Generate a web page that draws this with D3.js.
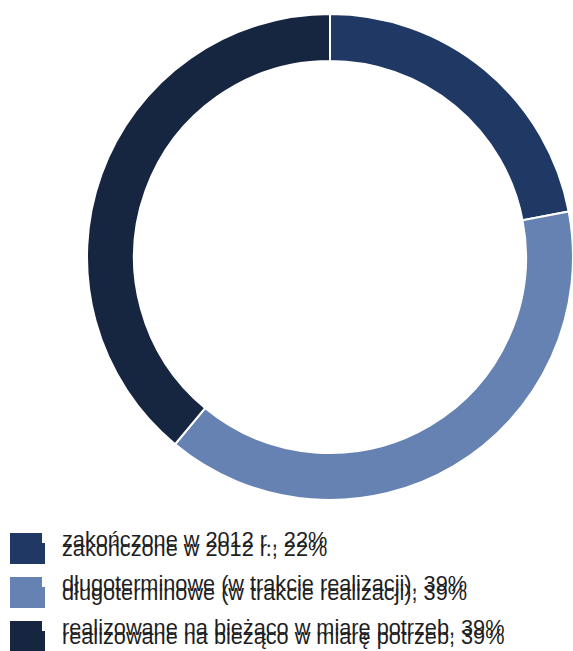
<!DOCTYPE html>
<html><head><meta charset="utf-8">
<script src="https://cdn.jsdelivr.net/npm/d3@7"></script>
<style>body{margin:0;background:#fff}svg{display:block}</style>
</head><body>
<script>
const categories = ["zakończone w 2012 r.", "długoterminowe (w trakcie realizacji)", "realizowane na bieżąco w miarę potrzeb"];
const values = [22, 39, 39];
const colors = ["#1f3864", "#6682b2", "#162540"];

const W = 573, H = 651;
const svg = d3.select("body").append("svg").attr("width", W).attr("height", H);
const cx = 330, cy = 257, rOuter = 243, rInner = 196;

const pie = d3.pie().sort(null).value(d => d)(values);
const arc = d3.arc().innerRadius(rInner).outerRadius(rOuter);
svg.append("g").attr("transform", `translate(${cx},${cy})`)
  .selectAll("path").data(pie).join("path")
  .attr("d", arc).attr("fill", (d, i) => colors[i])
  .attr("stroke", "#fff").attr("stroke-width", 2);

const leg = svg.append("g");
const y0 = 533, step = 44;
categories.forEach((c, i) => {
  const g = leg.append("g").attr("transform", `translate(0,${y0 + i * step})`);
  g.append("rect").attr("x", 10).attr("y", 0).attr("width", 32).attr("height", 31).attr("fill", colors[i]);
  g.append("rect").attr("x", 10).attr("y", 10).attr("width", 35).attr("height", 21).attr("fill", colors[i]);
  const label = `${c}, ${values[i]}%`;
  g.append("text").attr("x", 62).attr("y", 14).attr("font-family", "Liberation Sans, Arial, sans-serif")
    .attr("font-size", 21.7).attr("fill", "#1e1e1e").text(label);
  g.append("text").attr("x", 62).attr("y", 23).attr("font-family", "Liberation Sans, Arial, sans-serif")
    .attr("font-size", 21.7).attr("fill", "#1e1e1e").text(label);
});
</script>
</body></html>
